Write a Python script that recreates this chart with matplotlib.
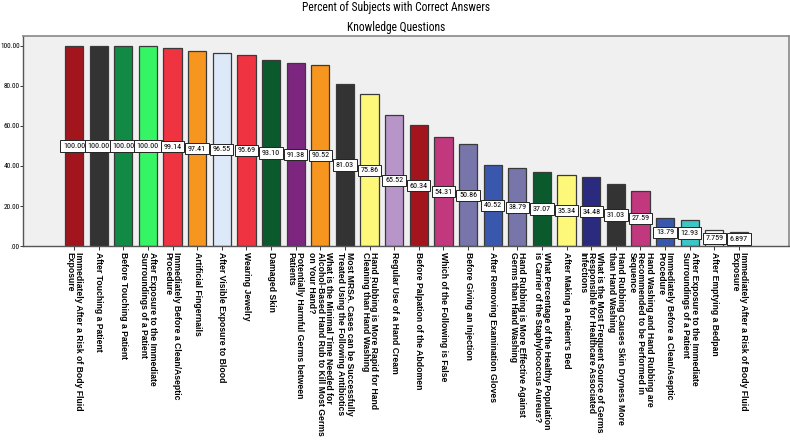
import matplotlib
matplotlib.use("Agg")
import matplotlib.pyplot as plt

categories = [
    "Immediately After a Risk of Body Fluid\nExposure",
    "After Touching a Patient",
    "Before Touching a Patient",
    "After Exposure to the Immediate\nSurroundings of a Patient",
    "Immediately Before a Clean/Aseptic\nProcedure",
    "Artificial Fingernails",
    "After Visible Exposure to Blood",
    "Wearing Jewelry",
    "Damaged Skin",
    "Potentially Harmful Germs between\nPatients",
    "What is the Minimal Time Needed for\nAlcohol-Based Hand Rub to Kill Most Germs\non Your Hand?",
    "Most MRSA. Cases can be Successfully\nTreated Using the Following Antibiotics",
    "Hand Rubbing is More Rapid for Hand\nCleaning than Hand Washing",
    "Regular Use of a Hand Cream",
    "Before Palpation of the Abdomen",
    "Which of the Following is False",
    "Before Giving an Injection",
    "After Removing Examination Gloves",
    "Hand Rubbing is More Effective Against\nGerms than Hand Washing",
    "What Percentage of the Healthy Population\nis Carrier of the Staphylococcus Aureus?",
    "After Making a Patient's Bed",
    "What is the Most Frequent Source of Germs\nResponsible for Healthcare Associated\nInfections",
    "Hand Rubbing Causes Skin Dryness More\nthan Hand Washing",
    "Hand Washing and Hand Rubbing are\nRecommended to be Performed in\nSequence",
    "Immediately Before a Clean/Aseptic\nProcedure",
    "After Exposure to the Immediate\nSurroundings of a Patient",
    "After Emptying a Bedpan",
    "Immediately After a Risk of Body Fluid\nExposure",
]

values = [100.00, 100.00, 100.00, 100.00, 99.14, 97.41, 96.55, 95.69, 93.10,
          91.38, 90.52, 81.03, 75.86, 65.52, 60.34, 54.31, 50.86, 40.52,
          38.79, 37.07, 35.34, 34.48, 31.03, 27.59, 13.79, 12.93, 7.759, 6.897]

value_labels = ["100.00", "100.00", "100.00", "100.00", "99.14", "97.41",
                "96.55", "95.69", "93.10", "91.38", "90.52", "81.03", "75.86",
                "65.52", "60.34", "54.31", "50.86", "40.52", "38.79", "37.07",
                "35.34", "34.48", "31.03", "27.59", "13.79", "12.93", "7.759",
                "6.897"]

colors = ["#a3151d", "#333333", "#108a45", "#35f565", "#ef3340", "#f6961e",
          "#dde9f8", "#ef3340", "#0a5a2e", "#7d2680", "#f6961e", "#333333",
          "#fdf77a", "#b795c9", "#a3151d", "#c2387f", "#7775a9", "#3a57ae",
          "#7775a9", "#0a5a2e", "#fdf77a", "#2a2a7e", "#333333", "#c2387f",
          "#3a57ae", "#3cc6c6", "#f7f7f7", "#f7f7f7"]

yticks = [0, 20, 40, 60, 80, 100]
ytick_labels = [".00", "20.00", "40.00", "60.00", "80.00", "100.00"]

title1 = "Percent of Subjects with Correct Answers"
title2 = "Knowledge Questions"

narrow = ["Roboto Condensed", "Liberation Sans", "DejaVu Sans"]
plt.rcParams["font.family"] = ["Liberation Sans", "DejaVu Sans"]

fig = plt.figure(figsize=(7.9, 4.4), dpi=100)
ax = fig.add_axes([23/790, 1 - 246/440, 766/790, 210/440])
ax.set_facecolor("#f0f0f0")

x = list(range(len(values)))
ax.bar(x, values, width=0.74, color=colors, edgecolor="#3a3a3a", linewidth=0.9, zorder=2)

for xi, v, lab in zip(x, values, value_labels):
    ax.text(xi, v / 2, lab, ha="center", va="center", fontsize=5.9,
            family=narrow, zorder=3,
            bbox=dict(boxstyle="square,pad=0.32", facecolor="white",
                      edgecolor="#222222", linewidth=0.7))

ax.set_xlim(-2.07, 29.03)
ax.set_ylim(0, 105)
ax.set_yticks(yticks)
ax.set_yticklabels(ytick_labels, fontsize=5.3, family=narrow)
ax.set_xticks(x)
ax.set_xticklabels(categories, rotation=270, fontsize=6.2, fontweight="bold",
                   va="top", ha="center", multialignment="left",
                   linespacing=0.95)
ax.tick_params(axis="x", length=3, width=0.7, color="#333333", pad=1)
ax.tick_params(axis="y", length=2.0, width=0.7, color="#333333", pad=0.3)

for side in ["top", "right"]:
    ax.spines[side].set_color("#888888")
    ax.spines[side].set_linewidth(1.2)
ax.spines["left"].set_color("#555555")
ax.spines["bottom"].set_color("#555555")
ax.spines["left"].set_linewidth(1.0)
ax.spines["bottom"].set_linewidth(1.0)

fig.text(0.501, 1 - 7/440, title1, ha="center", va="center", fontsize=8.3,
         family=narrow)
fig.text(0.501, 1 - 27/440, title2, ha="center", va="center", fontsize=8.3,
         family=narrow)

fig.savefig("out.png", dpi=100)
